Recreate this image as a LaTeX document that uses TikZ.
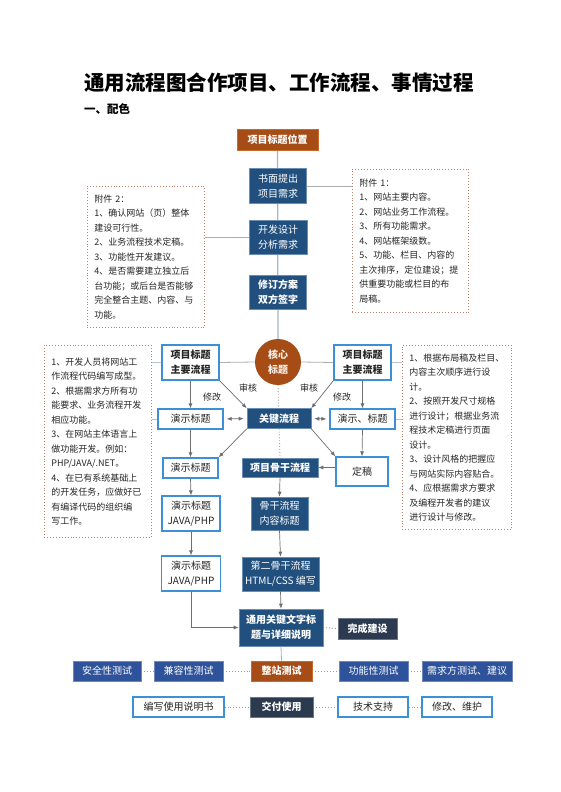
\documentclass[tikz,border=0pt]{standalone}
\usepackage{fontspec}
\setmainfont{Noto Sans CJK SC}
\usetikzlibrary{arrows.meta,calc}
\definecolor{oran}{HTML}{A64D17}
\definecolor{oranb}{HTML}{C96A2C}
\definecolor{dblue}{HTML}{22507E}
\definecolor{dblueb}{HTML}{6A8DB3}
\definecolor{lblue}{HTML}{3D8FD8}
\definecolor{tblue}{HTML}{2F539B}
\definecolor{navy}{HTML}{2B3A4F}
\definecolor{spinec}{HTML}{A3B6CC}
\definecolor{arrgray}{HTML}{6E6E6E}
\definecolor{linegray}{HTML}{9A9A9A}
\definecolor{annexc}{HTML}{B9826A}
\definecolor{txt}{HTML}{262626}
\pgfdeclarelayer{paper}
\pgfdeclarelayer{back}
\pgfsetlayers{paper,back,main}
\tikzset{
  boxfont/.style={font=\fontsize{10}{15}\selectfont},
  obox/.style={boxfont, fill=oran, draw=oranb, line width=0.8pt, text=white, font=\fontsize{10}{15}\selectfont\bfseries, inner sep=0pt, align=center},
  dbox/.style={boxfont, fill=dblue, draw=dblueb, line width=0.6pt, text=white, inner sep=0pt, align=center},
  wbox/.style={boxfont, fill=white, draw=lblue, line width=1.2pt, text=txt, inner sep=0pt, align=center},
  tbox/.style={boxfont, fill=tblue, draw=tblue!70!white, line width=0.6pt, text=white, inner sep=0pt, align=center, minimum height=20pt},
  nbox/.style={boxfont, fill=navy, draw=navy!70!white, line width=0.6pt, text=white, inner sep=0pt, align=center},
  annex/.style={draw=annexc, dotted, line width=0.9pt, fill=white, text=txt, align=left, inner xsep=7pt, inner ysep=0pt, font=\fontsize{9}{14.5}\selectfont, anchor=north west},
  arr/.style={draw=arrgray, line width=0.7pt, -{Latex[length=5pt,width=4pt]}},
  darr/.style={draw=arrgray, line width=0.7pt, {Latex[length=5pt,width=4pt]}-{Latex[length=5pt,width=4pt]}, shorten <=3pt, shorten >=3pt},
  spine/.style={draw=spinec, line width=1.3pt},
  thin/.style={draw=linegray!80, line width=0.8pt},
  faint/.style={draw=spinec!80, line width=0.8pt},
  dotc/.style={draw=linegray, line width=0.9pt, dotted},
  lbl/.style={font=\fontsize{9}{11}\selectfont, text=txt, inner sep=0pt}
}
\begin{document}
\begin{tikzpicture}[x=1pt,y=-1pt]
\begin{pgfonlayer}{paper}
\fill[white] (0,0) rectangle (560,792);
\end{pgfonlayer}
\useasboundingbox (0,0) rectangle (560,792);

% titles
\node[anchor=west, inner sep=0pt, font=\fontsize{20.5}{24}\selectfont\bfseries] (title) at (84,83) {通用流程图合作项目、工作流程、事情过程};
\node[anchor=west, inner sep=0pt, font=\fontsize{11.5}{14}\selectfont\bfseries] (sub) at (84,109) {一、配色};

% top spine
\node[obox, minimum width=81pt, minimum height=21pt] (top) at (277.5,139.5) {项目标题位置};
\node[dbox, minimum width=57pt, minimum height=35pt] (req) at (278,186) {书面提出\\项目需求};
\node[dbox, minimum width=58pt, minimum height=34pt] (ana) at (278,237) {开发设计\\分析需求};
\node[dbox, minimum width=57pt, minimum height=34pt, font=\fontsize{10}{15}\selectfont\bfseries] (rev) at (278,292) {修订方案\\双方签字};
\node[circle, fill=oran, minimum size=46pt, inner sep=0pt, text=white!92!oran, align=center, font=\fontsize{10}{15}\selectfont\bfseries] (core) at (278,362) {核心\\标题};

% annex boxes
\node[annex, minimum width=117pt, minimum height=141pt, text width=103pt] (ax2) at (87,186) {附件 2：\\1、确认网站（页）整体\\建设可行性。\\2、业务流程技术定稿。\\3、功能性开发建议。\\4、是否需要建立独立后\\台功能；或后台是否能够\\完全整合主题、内容、与\\功能。};
\node[annex, minimum width=116pt, minimum height=143pt, text width=102pt] (ax1) at (352,169) {附件 1：\\1、网站主要内容。\\2、网站业务工作流程。\\3、所有功能需求。\\4、网站框架级数。\\5、功能、栏目、内容的\\主次排序，定位建设；提\\供重要功能或栏目的布\\局稿。};
\node[annex, minimum width=107pt, minimum height=192pt, text width=93pt] (ax3) at (44,345) {1、开发人员将网站工\\作流程代码编写成型。\\2、根据需求方所有功\\能要求、业务流程开发\\相应功能。\\3、在网站主体语言上\\做功能开发。例如：\\PHP/JAVA/.NET。\\4、在已有系统基础上\\的开发任务，应做好已\\有编译代码的组织编\\写工作。};
\node[annex, minimum width=109pt, minimum height=184pt, text width=95pt] (ax4) at (402,345) {1、根据布局稿及栏目、\\内容主次顺序进行设\\计。\\2、按照开发尺寸规格\\进行设计；根据业务流\\程技术定稿进行页面\\设计。\\3、设计风格的把握应\\与网站实际内容贴合。\\4、应根据需求方要求\\及编程开发者的建议\\进行设计与修改。};

% middle section
\node[wbox, minimum width=57pt, minimum height=35pt, font=\fontsize{10}{15}\selectfont\bfseries] (lk) at (190.5,362.5) {项目标题\\主要流程};
\node[wbox, minimum width=57pt, minimum height=35pt, font=\fontsize{10}{15}\selectfont\bfseries] (rk) at (362.5,362.5) {项目标题\\主要流程};
\node[wbox, minimum width=65pt, minimum height=20pt] (d2) at (190.5,419) {演示标题};
\node[dbox, minimum width=64pt, minimum height=20pt, font=\fontsize{10}{15}\selectfont\bfseries] (key) at (279,418.5) {关键流程};
\node[wbox, minimum width=65pt, minimum height=20pt] (rd2) at (362.5,419) {演示、标题};
\node[wbox, minimum width=55pt, minimum height=20pt] (d3) at (190.5,468) {演示标题};
\node[dbox, minimum width=76pt, minimum height=19pt, font=\fontsize{10}{15}\selectfont\bfseries] (gg) at (280,467.5) {项目骨干流程};
\node[wbox, minimum width=52pt, minimum height=29pt] (dg) at (362,471.5) {定稿};
\node[wbox, minimum width=58pt, minimum height=35pt] (d4) at (191,513.5) {演示标题\\JAVA/PHP};
\node[dbox, minimum width=57pt, minimum height=33pt] (gn) at (279.5,513.5) {骨干流程\\内容标题};
\node[wbox, minimum width=59pt, minimum height=35pt] (d5) at (191,573.5) {演示标题\\JAVA/PHP};
\node[dbox, minimum width=77pt, minimum height=34pt] (g2) at (280.5,574) {第二骨干流程\\HTML/CSS 编写};
\node[dbox, minimum width=84pt, minimum height=37pt, font=\fontsize{10}{15}\selectfont\bfseries] (tong) at (281,627.5) {通用关键文字标\\题与详细说明};
\node[nbox, minimum width=59pt, minimum height=21pt, font=\fontsize{10}{15}\selectfont\bfseries] (wc) at (367.5,628.5) {完成建设};

% labels
\node[lbl] (l1) at (212,397) {修改};
\node[lbl] (l2) at (248,388) {审核};
\node[lbl] (l3) at (309,388) {审核};
\node[lbl] (l4) at (342,397) {修改};

% test row
\node[tbox, minimum width=68pt] (aq) at (107,671) {安全性测试};
\node[tbox, minimum width=69pt] (jr) at (188.5,671) {兼容性测试};
\node[obox, minimum width=61pt, minimum height=20pt] (zz) at (281.5,671) {整站测试};
\node[tbox, minimum width=69pt] (gx) at (373.5,671) {功能性测试};
\node[tbox, minimum width=90pt] (xq) at (467,671) {需求方测试、建议};

% delivery row
\node[wbox, minimum width=91pt, minimum height=20pt] (bx) at (178.5,707) {编写使用说明书};
\node[nbox, minimum width=63pt, minimum height=20pt, font=\fontsize{10}{15}\selectfont\bfseries] (jf) at (281.5,707) {交付使用};
\node[wbox, minimum width=70pt, minimum height=20pt] (js) at (373,707) {技术支持};
\node[wbox, minimum width=70pt, minimum height=20pt] (xg) at (457,707) {修改、维护};

\begin{pgfonlayer}{back}
\draw[spine] (top.south) -- (core.north);
\draw[thin] (ax2.east |- ana.west) -- (ana.west);
\draw[thin] (req.east) -- (ax1.west |- req.east);
\draw[thin] (lk.east) -- (core.west);
\draw[thin] (core.east) -- (rk.west);
\draw[faint] (ax3.east |- lk.west) -- (lk.west);
\draw[faint] (ax3.east |- d2.west) -- (d2.west);
\draw[faint] (rk.east) -- (ax4.west |- rk.east);
\draw[faint] (rd2.east) -- (ax4.west |- rd2.east);
\draw[dotc] (core.south) -- (gg.north);
\draw[dotc] (tong.east) -- (wc.west);
\draw[thin] (tong.south) -- (zz.north);
\draw[dotc] (aq.east) -- (jr.west);
\draw[dotc] (jr.east) -- (zz.west);
\draw[dotc] (zz.east) -- (gx.west);
\draw[dotc] (gx.east) -- (xq.west);
\draw[dotc] (bx.east) -- (jf.west);
\draw[dotc] (jf.east) -- (js.west);
\draw[dotc] (js.east) -- (xg.west);
\end{pgfonlayer}

% arrows
\draw[arr] (lk.south) -- (d2.north);
\draw[arr] (lk.south east) -- (key.north west);
\draw[arr] (rk.south west) -- (key.north east);
\draw[arr] (rk.south) -- (rd2.north);
\draw[darr] (d2.east) -- (key.west);
\draw[darr] (key.east) -- (rd2.west);
\draw[arr] (key.south west) -- (d3.north east);
\draw[arr] (key.south east) -- (dg.north west);
\draw[arr] (d2.south) -- (d3.north);
\draw[arr] (rd2.south) -- (dg.north);
\draw[arr] (gg.east -| dg.west) -- (gg.east);
\draw[arr] (d3.south) -- (d4.north);
\draw[arr] (d4.south) -- (d5.north);
\draw[arr] (gg.south) -- (gn.north);
\draw[arr] (gn.south) -- (g2.north);
\draw[arr] (g2.south) -- (tong.north);
\draw[arr] (d5.south) |- (tong.west);
\end{tikzpicture}
\end{document}
